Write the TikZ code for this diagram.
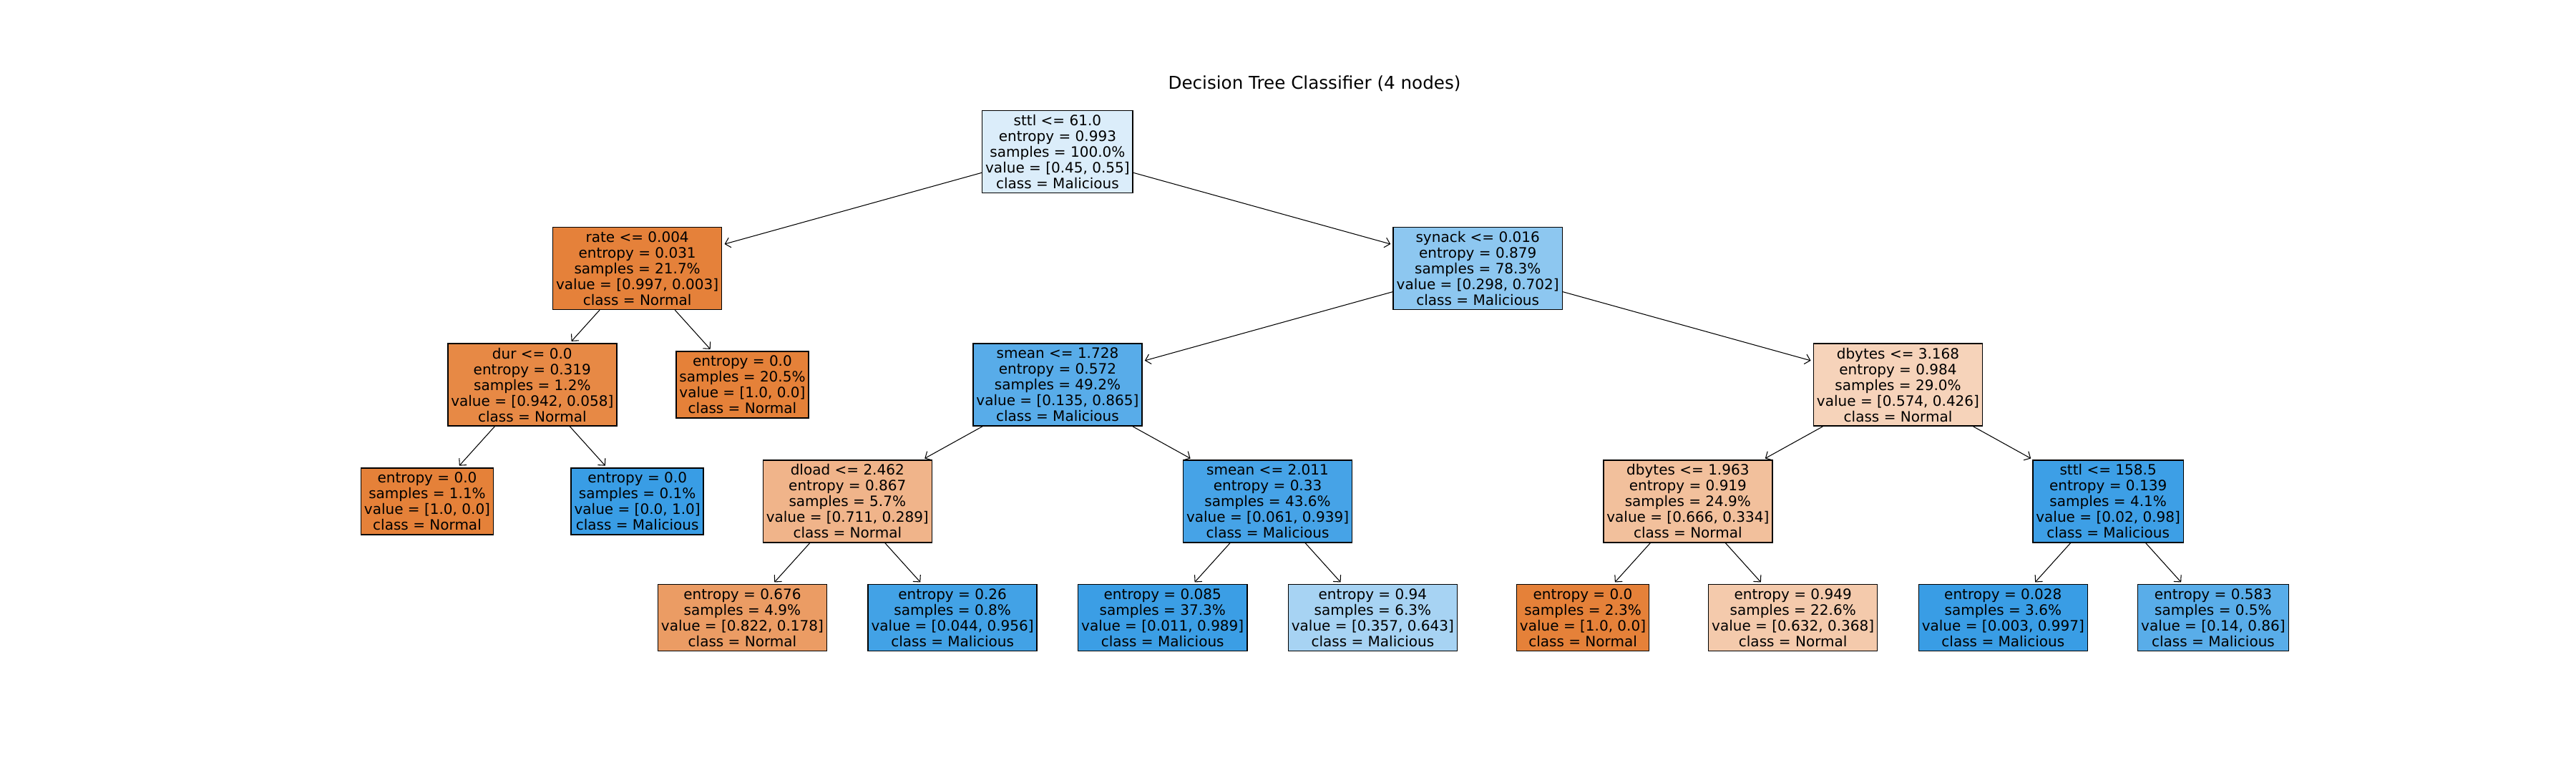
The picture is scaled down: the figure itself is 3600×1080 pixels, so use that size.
\documentclass[tikz,border=0pt]{standalone}
\usepackage{fontspec}
\setsansfont{DejaVu Sans}
\usepackage{tikz}
\usetikzlibrary{arrows.meta}
\newcommand*{\stpx }{146.82}
\newcommand*{\stpy }{162.8}
\newcommand*{\xzero}{597}
\newcommand*{\yzero}{212}
\definecolor{cRoot}{RGB}{219,237,250}
\definecolor{cRate}{RGB}{229,129,58}
\definecolor{cSynack}{RGB}{141,199,240}
\definecolor{cDur}{RGB}{231,137,69}
\definecolor{cOrange}{RGB}{229,129,57}
\definecolor{cBlue}{RGB}{57,157,229}
\definecolor{cSmean}{RGB}{88,172,233}
\definecolor{cDbytes}{RGB}{246,211,186}
\definecolor{cDload}{RGB}{240,180,138}
\definecolor{cSmeanB}{RGB}{70,163,231}
\definecolor{cDbytesB}{RGB}{242,192,156}
\definecolor{cSttl}{RGB}{61,159,230}
\definecolor{cDloadL}{RGB}{235,156,100}
\definecolor{cDloadR}{RGB}{66,162,230}
\definecolor{cSmeanBL}{RGB}{59,158,229}
\definecolor{cSmeanBR}{RGB}{167,211,243}
\definecolor{cDbytesBR}{RGB}{244,202,172}
\definecolor{cSttlR}{RGB}{89,173,233}

\begin{document}
\begin{tikzpicture}[x=0.01cm, y=-0.01cm, font=\sffamily\fontsize{5.69}{6.26}\selectfont,
    box/.style={draw=black, line width=0.42pt, inner xsep=0.045cm, inner ysep=0pt, align=center, minimum height=1.15cm},
    leaf/.style={box, minimum height=0.93cm},
    edge/.style={-{Straight Barb[length=0.07cm,width=0.14cm]}, line width=0.3pt, shorten >=0.033cm}]
    \useasboundingbox (0,0) rectangle (3600,1080);
    \node [anchor=base, font=\sffamily\fontsize{7}{8}\selectfont] (title) at (1837,125) {Decision Tree Classifier (4 nodes)};
    % level 0
    \node [box, fill=cRoot] (root) at (\xzero+6*\stpx, \yzero) {sttl <= 61.0\\entropy = 0.993\\samples = 100.0\%\\value = [0.45, 0.55]\\class = Malicious};
    % level 1
    \node [box, fill=cRate] (rate) at (\xzero+2*\stpx, \yzero+\stpy) {rate <= 0.004\\entropy = 0.031\\samples = 21.7\%\\value = [0.997, 0.003]\\class = Normal};
    \node [box, fill=cSynack] (synack) at (\xzero+10*\stpx, \yzero+\stpy) {synack <= 0.016\\entropy = 0.879\\samples = 78.3\%\\value = [0.298, 0.702]\\class = Malicious};
    % level 2
    \node [box, fill=cDur] (dur) at (\xzero+1*\stpx, \yzero+2*\stpy) {dur <= 0.0\\entropy = 0.319\\samples = 1.2\%\\value = [0.942, 0.058]\\class = Normal};
    \node [leaf, fill=cOrange] (rateR) at (\xzero+3*\stpx, \yzero+2*\stpy) {entropy = 0.0\\samples = 20.5\%\\value = [1.0, 0.0]\\class = Normal};
    \node [box, fill=cSmean] (smean) at (\xzero+6*\stpx, \yzero+2*\stpy) {smean <= 1.728\\entropy = 0.572\\samples = 49.2\%\\value = [0.135, 0.865]\\class = Malicious};
    \node [box, fill=cDbytes] (dbytes) at (\xzero+14*\stpx, \yzero+2*\stpy) {dbytes <= 3.168\\entropy = 0.984\\samples = 29.0\%\\value = [0.574, 0.426]\\class = Normal};
    % level 3
    \node [leaf, fill=cOrange] (durL) at (\xzero, \yzero+3*\stpy) {entropy = 0.0\\samples = 1.1\%\\value = [1.0, 0.0]\\class = Normal};
    \node [leaf, fill=cBlue] (durR) at (\xzero+2*\stpx, \yzero+3*\stpy) {entropy = 0.0\\samples = 0.1\%\\value = [0.0, 1.0]\\class = Malicious};
    \node [box, fill=cDload] (dload) at (\xzero+4*\stpx, \yzero+3*\stpy) {dload <= 2.462\\entropy = 0.867\\samples = 5.7\%\\value = [0.711, 0.289]\\class = Normal};
    \node [box, fill=cSmeanB] (smeanB) at (\xzero+8*\stpx, \yzero+3*\stpy) {smean <= 2.011\\entropy = 0.33\\samples = 43.6\%\\value = [0.061, 0.939]\\class = Malicious};
    \node [box, fill=cDbytesB] (dbytesB) at (\xzero+12*\stpx, \yzero+3*\stpy) {dbytes <= 1.963\\entropy = 0.919\\samples = 24.9\%\\value = [0.666, 0.334]\\class = Normal};
    \node [box, fill=cSttl] (sttl) at (\xzero+16*\stpx, \yzero+3*\stpy) {sttl <= 158.5\\entropy = 0.139\\samples = 4.1\%\\value = [0.02, 0.98]\\class = Malicious};
    % level 4
    \node [leaf, fill=cDloadL] (dloadL) at (\xzero+3*\stpx, \yzero+4*\stpy) {entropy = 0.676\\samples = 4.9\%\\value = [0.822, 0.178]\\class = Normal};
    \node [leaf, fill=cDloadR] (dloadR) at (\xzero+5*\stpx, \yzero+4*\stpy) {entropy = 0.26\\samples = 0.8\%\\value = [0.044, 0.956]\\class = Malicious};
    \node [leaf, fill=cSmeanBL] (smeanBL) at (\xzero+7*\stpx, \yzero+4*\stpy) {entropy = 0.085\\samples = 37.3\%\\value = [0.011, 0.989]\\class = Malicious};
    \node [leaf, fill=cSmeanBR] (smeanBR) at (\xzero+9*\stpx, \yzero+4*\stpy) {entropy = 0.94\\samples = 6.3\%\\value = [0.357, 0.643]\\class = Malicious};
    \node [leaf, fill=cOrange] (dbytesBL) at (\xzero+11*\stpx, \yzero+4*\stpy) {entropy = 0.0\\samples = 2.3\%\\value = [1.0, 0.0]\\class = Normal};
    \node [leaf, fill=cDbytesBR] (dbytesBR) at (\xzero+13*\stpx, \yzero+4*\stpy) {entropy = 0.949\\samples = 22.6\%\\value = [0.632, 0.368]\\class = Normal};
    \node [leaf, fill=cBlue] (sttlL) at (\xzero+15*\stpx, \yzero+4*\stpy) {entropy = 0.028\\samples = 3.6\%\\value = [0.003, 0.997]\\class = Malicious};
    \node [leaf, fill=cSttlR] (sttlR) at (\xzero+17*\stpx, \yzero+4*\stpy) {entropy = 0.583\\samples = 0.5\%\\value = [0.14, 0.86]\\class = Malicious};
    % edges
    \draw [edge] (root) -- (rate);
    \draw [edge] (root) -- (synack);
    \draw [edge] (rate) -- (dur);
    \draw [edge] (rate) -- (rateR);
    \draw [edge] (dur) -- (durL);
    \draw [edge] (dur) -- (durR);
    \draw [edge] (synack) -- (smean);
    \draw [edge] (synack) -- (dbytes);
    \draw [edge] (smean) -- (dload);
    \draw [edge] (smean) -- (smeanB);
    \draw [edge] (dload) -- (dloadL);
    \draw [edge] (dload) -- (dloadR);
    \draw [edge] (smeanB) -- (smeanBL);
    \draw [edge] (smeanB) -- (smeanBR);
    \draw [edge] (dbytes) -- (dbytesB);
    \draw [edge] (dbytes) -- (sttl);
    \draw [edge] (dbytesB) -- (dbytesBL);
    \draw [edge] (dbytesB) -- (dbytesBR);
    \draw [edge] (sttl) -- (sttlL);
    \draw [edge] (sttl) -- (sttlR);
\end{tikzpicture}
\end{document}
